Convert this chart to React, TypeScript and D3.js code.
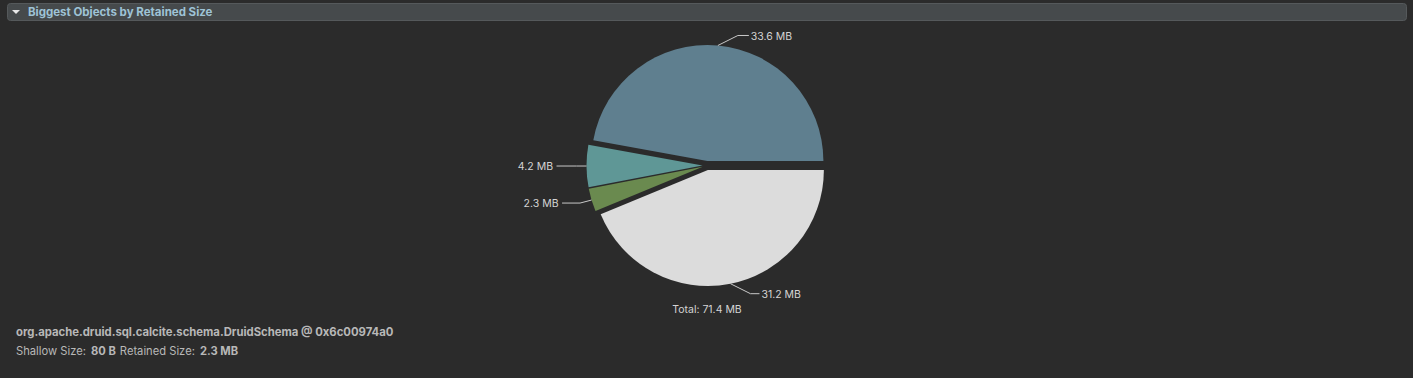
import React from "react";
import * as d3 from "d3";

// ---- data ----
const sliceLabels = ["31.2 MB", "2.3 MB", "4.2 MB", "33.6 MB"];
const sliceValues = [31.2, 2.3, 4.2, 33.6];
const sliceColors = ["#dcdcdc", "#6a8a4f", "#5f9796", "#5f7f8f"];
const totalLabel = "Total: 71.4 MB";
const headerTitle = "Biggest Objects by Retained Size";
const objectName = "org.apache.druid.sql.calcite.schema.DruidSchema @ 0x6c00974a0";
const sizeParts = [
  { text: "Shallow Size:", bold: false },
  { text: "80 B", bold: true },
  { text: "Retained Size:", bold: false },
  { text: "2.3 MB", bold: true },
];

// ---- layout (styles / positions, not data) ----
const W = 1413;
const H = 378;
const CX = 707;
const CY = 165.5;
const R = 116;
const EXPLODE = 4.5;
const leaders = [
  { dx: 20, dy: 10, h: 9 },
  { dx: -11.5, dy: 3, h: 18 },
  { dx: -10, dy: 0, h: 20 },
  { dx: 20, dy: -10, h: 11 },
];
const FONT = "Inter, 'Noto Sans', 'DejaVu Sans', sans-serif";

export default function App() {
  const pie = d3
    .pie<number>()
    .sort(null)
    .startAngle(Math.PI / 2)
    .endAngle(Math.PI / 2 + 2 * Math.PI)
    .value((d) => d);
  const arcs = pie(sliceValues);
  const arc = d3.arc<d3.PieArcDatum<number>>().innerRadius(0).outerRadius(R);

  return (
    <div style={{ position: "fixed", left: 0, top: 0, width: W, height: H }}>
      <svg width={W} height={H} style={{ display: "block" }}>
        <rect x={0} y={0} width={W} height={H} fill="#2b2b2b" />
        {/* header bar */}
        <rect x={7.5} y={3.5} width={1399} height={17} rx={3} fill="#464a4c" stroke="#55595b" />
        <path d="M12,10 L20,10 L16,14 Z" fill="#e8e8e8" />
        <text
          x={28}
          y={15.5}
          fontFamily={FONT}
          fontSize={11.5}
          fontWeight={700}
          fill="#9ec3d6"
        >
          {headerTitle}
        </text>

        {/* pie */}
        <g transform={`translate(${CX},${CY})`}>
          {arcs.map((a, i) => {
            const mid = (a.startAngle + a.endAngle) / 2;
            const ox = Math.sin(mid) * EXPLODE;
            const oy = -Math.cos(mid) * EXPLODE;
            return (
              <path
                key={i}
                d={arc(a) || ""}
                transform={`translate(${ox},${oy})`}
                fill={sliceColors[i]}
              />
            );
          })}
          {arcs.map((a, i) => {
            const mid = (a.startAngle + a.endAngle) / 2;
            const rr = R + EXPLODE;
            const px = Math.sin(mid) * rr;
            const py = -Math.cos(mid) * rr;
            const L = leaders[i];
            const ex = px + L.dx;
            const ey = py + L.dy;
            const right = Math.sin(mid) >= 0;
            const hx = ex + (right ? L.h : -L.h);
            const tx = hx + (right ? 2 : -3.5);
            return (
              <g key={"l" + i}>
                <polyline
                  points={`${px},${py} ${ex},${ey} ${hx},${ey}`}
                  fill="none"
                  stroke="#c8c8c8"
                  strokeWidth={1}
                />
                <text
                  x={tx}
                  y={ey + 0.5}
                  dy="0.35em"
                  textAnchor={right ? "start" : "end"}
                  fontFamily={FONT}
                  fontSize={10.5}
                  fill="#d4d4d4"
                >
                  {sliceLabels[i]}
                </text>
              </g>
            );
          })}
        </g>
        <text
          x={CX}
          y={309.5}
          dy="0.35em"
          textAnchor="middle"
          fontFamily={FONT}
          fontSize={10.5}
          fill="#d4d4d4"
        >
          {totalLabel}
        </text>

        {/* footer */}
        <text x={16} y={332} dy="0.35em" fontFamily={FONT} fontSize={11.3} fontWeight={700} fill="#b8b8b8">
          {objectName}
        </text>
        <text x={16} y={351} dy="0.35em" fontFamily={FONT} fontSize={11.2} fill="#b8b8b8">
          {sizeParts.map((p, i) => (
            <tspan key={i} fontWeight={p.bold ? 700 : 400} dx={i === 0 ? 0 : p.bold ? 5 : 4}>
              {p.text}
            </tspan>
          ))}
        </text>
      </svg>
    </div>
  );
}
